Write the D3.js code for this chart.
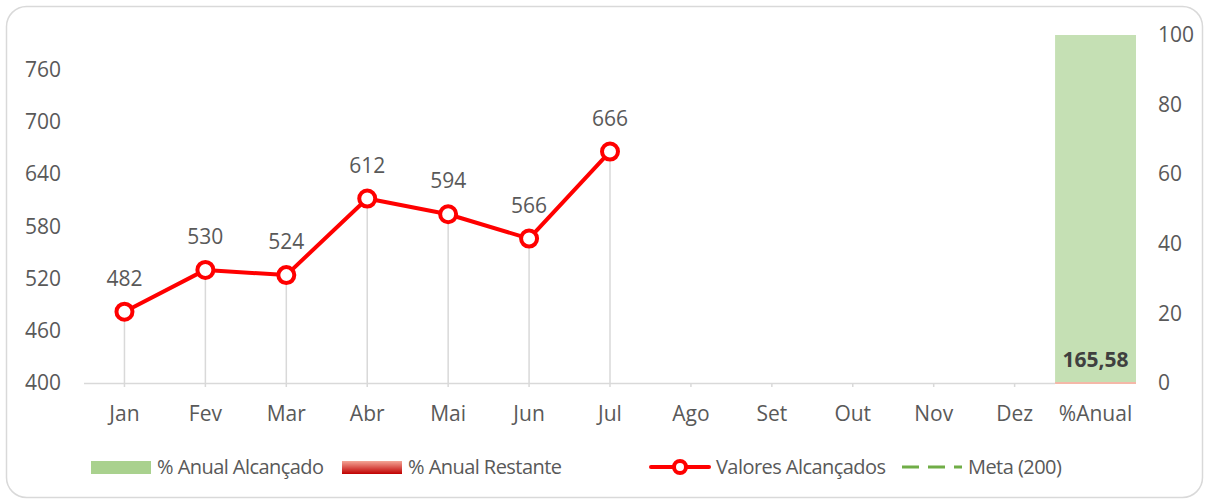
<!DOCTYPE html>
<html>
<head>
<meta charset="utf-8">
<script src="https://cdn.jsdelivr.net/npm/d3@7"></script>
<style>
  body { margin: 0; background: #fff; }
  text { font-family: "Open Sans", sans-serif; fill: #595959; }
</style>
</head>
<body>
<svg id="chart" width="1206" height="502"></svg>
<script>
const months = ["Jan", "Fev", "Mar", "Abr", "Mai", "Jun", "Jul", "Ago", "Set", "Out", "Nov", "Dez", "%Anual"];
const valores = [482, 530, 524, 612, 594, 566, 666];
const leftTicks = [400, 460, 520, 580, 640, 700, 760];
const rightTicks = [0, 20, 40, 60, 80, 100];
const anualAlcancado = 100;
const anualRestante = 0;
const anualLabel = "165,58";
const meta = 200;

const svg = d3.select("#chart");
const margin = { left: 84, right: 70, top: 35, bottom: 119 };
const width = 1206 - margin.left - margin.right;
const height = 502 - margin.top - margin.bottom;

// frame
svg.append("rect")
  .attr("x", 6.5).attr("y", 6.5)
  .attr("width", 1196).attr("height", 491)
  .attr("rx", 20)
  .attr("fill", "#fff")
  .attr("stroke", "#d9d9d9")
  .attr("stroke-width", 1.5);

const g = svg.append("g").attr("transform", `translate(${margin.left},${margin.top})`);

const x = d3.scaleBand().domain(months).range([0, width]).padding(0);
const y = d3.scaleLinear().domain([400, 800]).range([height, 0]);
const y2 = d3.scaleLinear().domain([0, 100]).range([height, 0]);

// left axis
const yAxis = d3.axisLeft(y).tickValues(leftTicks).tickSize(0).tickPadding(23);
const ya = g.append("g").call(yAxis);
ya.select(".domain").remove();
ya.selectAll("text").style("font-size", "21px").attr("fill", "#595959");

// right axis
const y2Axis = d3.axisRight(y2).tickValues(rightTicks).tickSize(0).tickPadding(22);
const y2a = g.append("g").attr("transform", `translate(${width},0)`).call(y2Axis);
y2a.select(".domain").remove();
y2a.selectAll("text").style("font-size", "21px").attr("fill", "#595959");

// bars on % axis
const barW = x.bandwidth();
g.append("rect")
  .attr("x", x("%Anual"))
  .attr("y", y2(anualAlcancado))
  .attr("width", barW)
  .attr("height", y2(0) - y2(anualAlcancado))
  .attr("fill", "#c5e0b4");
g.append("rect")
  .attr("x", x("%Anual"))
  .attr("y", y2(anualRestante) - 1)
  .attr("width", barW)
  .attr("height", y2(0) - y2(anualRestante) + 2)
  .attr("fill", "#f4b8a8");
g.append("text")
  .attr("x", x("%Anual") + barW / 2)
  .attr("y", y2(0) - 16)
  .attr("text-anchor", "middle")
  .style("font-size", "21px")
  .style("font-weight", "bold")
  .style("fill", "#404040")
  .text(anualLabel);

// category axis line
g.append("line")
  .attr("x1", 0).attr("x2", x("%Anual"))
  .attr("y1", height + 0.5).attr("y2", height + 0.5)
  .attr("stroke", "#d9d9d9").attr("stroke-width", 1.5);

// tick marks
g.selectAll(".tk").data(months.slice(0, 12)).join("line")
  .attr("x1", d => x(d) + barW / 2).attr("x2", d => x(d) + barW / 2)
  .attr("y1", height).attr("y2", height + 4)
  .attr("stroke", "#d9d9d9").attr("stroke-width", 1.5);

// category labels
g.selectAll(".cat").data(months).join("text")
  .attr("x", d => x(d) + barW / 2)
  .attr("y", height + 38)
  .attr("text-anchor", "middle")
  .style("font-size", "21px")
  .text(d => d);

// drop lines
const pts = valores.map((v, i) => ({ m: months[i], v }));
g.selectAll(".drop").data(pts).join("line")
  .attr("x1", d => x(d.m) + barW / 2).attr("x2", d => x(d.m) + barW / 2)
  .attr("y1", d => y(d.v)).attr("y2", height)
  .attr("stroke", "#d9d9d9").attr("stroke-width", 1.5);

// line
const line = d3.line().x(d => x(d.m) + barW / 2).y(d => y(d.v));
g.append("path").datum(pts)
  .attr("d", line)
  .attr("fill", "none")
  .attr("stroke", "#ff0000")
  .attr("stroke-width", 4)
  .attr("stroke-linejoin", "round");

g.selectAll(".mk").data(pts).join("circle")
  .attr("cx", d => x(d.m) + barW / 2)
  .attr("cy", d => y(d.v))
  .attr("r", 8)
  .attr("fill", "#fff")
  .attr("stroke", "#ff0000")
  .attr("stroke-width", 4);

g.selectAll(".lbl").data(pts).join("text")
  .attr("x", d => x(d.m) + barW / 2)
  .attr("y", d => y(d.v) - 26)
  .attr("text-anchor", "middle")
  .style("font-size", "21px")
  .text(d => d.v);

// legend
const defs = svg.append("defs");
const grad = defs.append("linearGradient").attr("id", "redgrad")
  .attr("x1", 0).attr("y1", 0).attr("x2", 0).attr("y2", 1);
grad.append("stop").attr("offset", "0%").attr("stop-color", "#f4a596");
grad.append("stop").attr("offset", "100%").attr("stop-color", "#c00000");

const ly = 467;
const legFont = "20px";
const leg = svg.append("g");
const legText = (xPos, label) => leg.append("text")
  .attr("x", xPos).attr("y", ly + 7)
  .style("font-size", legFont)
  .style("letter-spacing", "-0.55px")
  .text(label);

leg.append("rect").attr("x", 91).attr("y", ly - 6).attr("width", 60).attr("height", 13).attr("fill", "#a9d18e");
legText(157, "% Anual Alcançado");

leg.append("rect").attr("x", 342).attr("y", ly - 6).attr("width", 60).attr("height", 13).attr("fill", "url(#redgrad)");
legText(408, "% Anual Restante");

leg.append("line").attr("x1", 651).attr("x2", 709).attr("y1", ly).attr("y2", ly)
  .attr("stroke", "#ff0000").attr("stroke-width", 4).attr("stroke-linecap", "round");
leg.append("circle").attr("cx", 680).attr("cy", ly).attr("r", 6)
  .attr("fill", "#fff").attr("stroke", "#ff0000").attr("stroke-width", 4);
legText(716, "Valores Alcançados");

leg.append("line").attr("x1", 902).attr("x2", 962).attr("y1", ly).attr("y2", ly)
  .attr("stroke", "#70ad47").attr("stroke-width", 3).attr("stroke-dasharray", "17,9");
legText(968, `Meta (${meta})`);
</script>
</body>
</html>
